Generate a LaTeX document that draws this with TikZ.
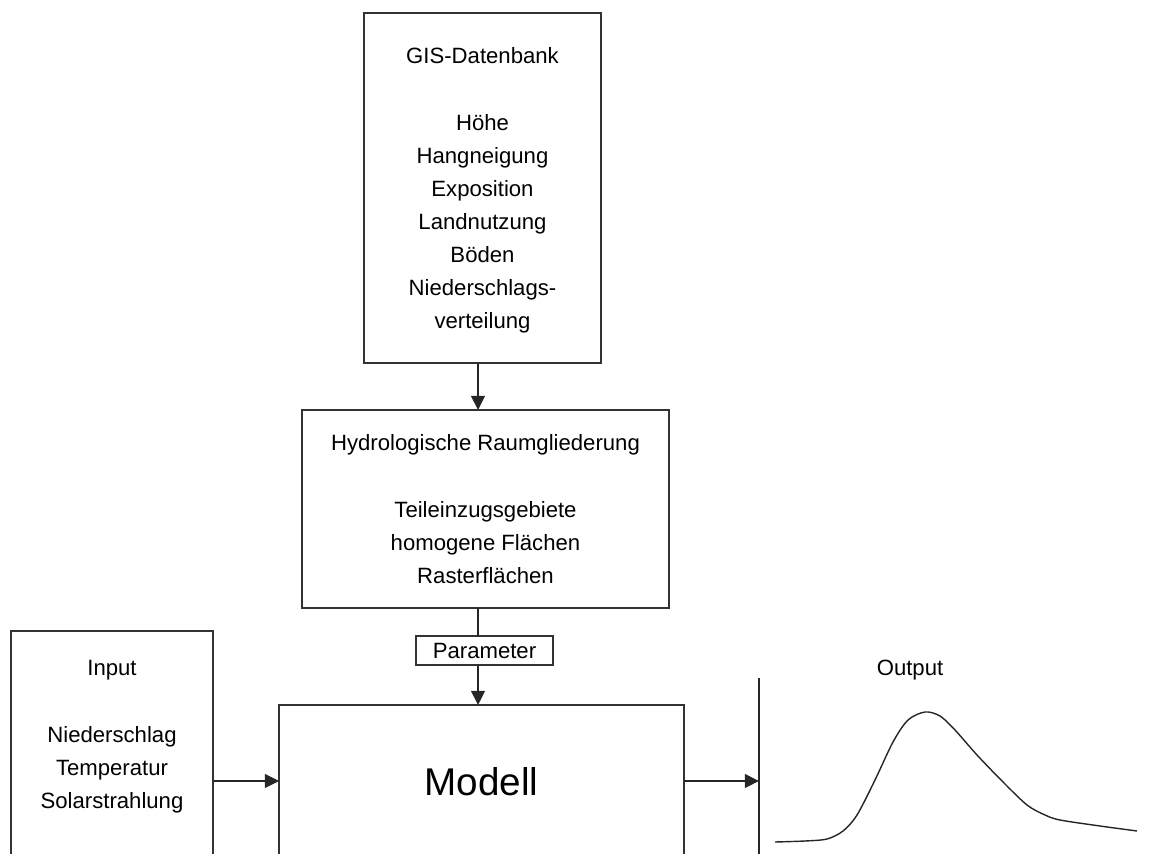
\documentclass[tikz,border=0pt]{standalone}
\usepackage{fontspec}
\setmainfont{Liberation Sans}
\usetikzlibrary{arrows.meta}
\tikzset{
    % plain text, Arial-like
    txt/.style={font=\fontsize{12.6}{18.8}\selectfont, align=center, inner sep=0pt, text depth=0pt},
    % framed box, exact size
    box/.style={txt, draw=black!80, line width=0.8pt, outer sep=0pt},
    ar/.style={-{Triangle[length=8pt,width=7.8pt]}, line width=0.8pt, draw=black!85},
    curve/.style={line width=0.8pt, draw=black!85, line join=round},
}
\begin{document}
\begin{tikzpicture}[x=0.02cm,y=-0.02cm]
  \useasboundingbox (0,0) rectangle (1153,854);
  \clip (0,0) rectangle (1153,854);
  \node[box,minimum width=4.74cm,minimum height=7cm] (gis) at (482.5,188)
    {GIS-Datenbank\\[0.69cm]Höhe\\Hangneigung\\Exposition\\Landnutzung\\Böden\\Niederschlags-\\verteilung};
  \node[box,minimum width=7.34cm,minimum height=3.96cm,text depth=-0.14cm] (raum) at (485.5,509)
    {Hydrologische Raumgliederung\\[0.69cm]Teileinzugsgebiete\\homogene Flächen\\Rasterflächen};
  \node[box,minimum width=2.74cm,minimum height=0.58cm] (param) at (484.5,650.5) {Parameter};
  \node[box,minimum width=8.1cm,minimum height=3.04cm,font=\fontsize{22}{26}\selectfont] (modell) at (481.5,781) {Modell};
  \node[box,minimum width=4.04cm,minimum height=9.4cm] (input) at (112,866) {};
  \node[txt] (inputtxt) at (112,734.5) {Input\\[0.69cm]Niederschlag\\Temperatur\\Solarstrahlung};
  \node[txt] (outlbl) at (910,667.5) {Output};
  % output axis
  \coordinate (xmid) at (478,0);
  \coordinate (achse) at (759,781);
  \coordinate (achseoben) at (759,678);
  \coordinate (achseunten) at (759,860);
  \draw[curve] (achseoben) -- (achseunten);
  \draw[ar] (gis.south -| xmid) -- (raum.north -| xmid);
  \draw[ar,-] (raum.south -| xmid) -- (param.north -| xmid);
  \draw[ar] (param.south -| xmid) -- (modell.north -| xmid);
  \draw[ar] (input.east |- modell.west) -- (modell.west);
  \draw[ar] (modell.east) -- (achse);
  % hydrograph
  \draw[curve] plot[smooth,tension=0.5] coordinates
    {(775,842) (805,841) (827,839) (843,831) (857,815) (875,780) (893,742) (908,720)
     (925,712) (940,716) (955,730) (977,755) (1003,782) (1027,805) (1045,815)
     (1060,820) (1100,826) (1137,831)};
\end{tikzpicture}
\end{document}
